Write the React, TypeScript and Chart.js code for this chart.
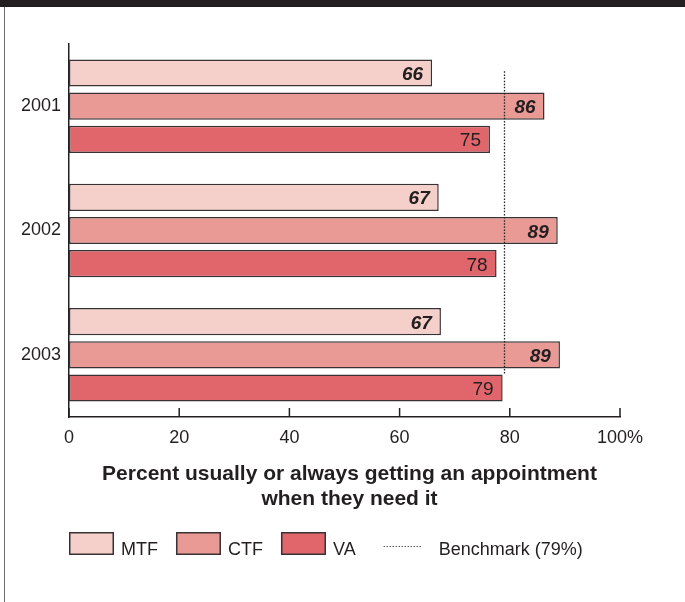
import React, { useEffect, useRef } from "react";
import { Chart, registerables } from "chart.js";

Chart.register(...registerables);

const years = ["2001", "2002", "2003"];
const seriesNames = ["MTF", "CTF", "VA"];
const mtfValues = [65.9, 67.1, 67.5];
const ctfValues = [86.3, 88.7, 89.1];
const vaValues = [76.4, 77.6, 78.7];
const mtfLabels = ["66", "67", "67"];
const ctfLabels = ["86", "89", "89"];
const vaLabels = ["75", "78", "79"];
const xTickValues = [0, 20, 40, 60, 80, 100];
const xTickLabels = ["0", "20", "40", "60", "80", "100%"];
const benchmarkValue = 79;
const benchmarkLabel = "Benchmark (79%)";
const axisTitleLines = [
  "Percent usually or always getting an appointment",
  "when they need it",
];

const FONT = "'Liberation Sans', Arial, sans-serif";
const TEXT = "#231f20";
const BORDER = "#383234";
const COLORS = ["#f5d0ca", "#e99a95", "#e0666c"];
const LABEL_STYLES = ["italic bold", "italic bold", "normal"];

const overlayPlugin = {
  id: "overlay",
  afterDatasetsDraw(chart: any) {
    const ctx = chart.ctx;
    const xs = chart.scales.x;
    const ys = chart.scales.y;
    const labelSets = [mtfLabels, ctfLabels, vaLabels];
    ctx.save();
    chart.data.datasets.forEach((ds: any, di: number) => {
      const meta = chart.getDatasetMeta(di);
      meta.data.forEach((bar: any, i: number) => {
        ctx.font = `${LABEL_STYLES[di]} 19px ${FONT}`;
        ctx.fillStyle = TEXT;
        ctx.textAlign = "right";
        ctx.textBaseline = "alphabetic";
        ctx.fillText(labelSets[di][i], bar.x - 9, bar.y + 7);
      });
    });
    const step = ys.getPixelForValue(1) - ys.getPixelForValue(0);
    const bx = Math.round(xs.getPixelForValue(benchmarkValue)) + 0.5;
    ctx.strokeStyle = "#222";
    ctx.lineWidth = 1.3;
    ctx.setLineDash([1.5, 1.6]);
    ctx.beginPath();
    ctx.moveTo(bx, ys.getPixelForValue(0) - 0.28 * step);
    ctx.lineTo(bx, ys.getPixelForValue(years.length - 1) + 0.157 * step);
    ctx.stroke();
    ctx.setLineDash([]);
    ctx.restore();
  },
  afterDraw(chart: any) {
    const ctx = chart.ctx;
    const area = chart.chartArea;
    const xs = chart.scales.x;
    const bottom = area.bottom;
    ctx.save();
    ctx.strokeStyle = TEXT;
    ctx.lineWidth = 1.5;
    xTickValues.forEach((v) => {
      const x = xs.getPixelForValue(v);
      ctx.beginPath();
      ctx.moveTo(x, bottom);
      ctx.lineTo(x, bottom - 9);
      ctx.stroke();
    });
    ctx.fillStyle = TEXT;
    ctx.font = `18px ${FONT}`;
    ctx.textAlign = "center";
    ctx.textBaseline = "alphabetic";
    xTickValues.forEach((v, i) => {
      ctx.fillText(xTickLabels[i], xs.getPixelForValue(v), bottom + 26);
    });
    ctx.font = `bold 21px ${FONT}`;
    const cx = (area.left + area.right) / 2 + 5;
    axisTitleLines.forEach((line, i) => {
      ctx.fillText(line, cx, bottom + 63 + i * 25);
    });
    ctx.textAlign = "left";
    ctx.font = `18px ${FONT}`;
    let x = area.left;
    const boxTop = bottom + 115;
    const boxH = 23;
    const boxW = 45;
    chart.data.datasets.forEach((ds: any) => {
      ctx.fillStyle = ds.backgroundColor;
      ctx.fillRect(x, boxTop, boxW, boxH);
      ctx.strokeStyle = BORDER;
      ctx.lineWidth = 1.5;
      ctx.strokeRect(x + 0.75, boxTop + 0.75, boxW - 1.5, boxH - 1.5);
      ctx.fillStyle = TEXT;
      const tx = x + boxW + 7;
      ctx.fillText(ds.label, tx, boxTop + boxH);
      x = tx + ctx.measureText(ds.label).width + 18;
    });
    ctx.strokeStyle = "#333";
    ctx.lineWidth = 1.2;
    ctx.setLineDash([1.2, 1.8]);
    ctx.beginPath();
    const ly = boxTop + 14.5;
    ctx.moveTo(x + 10, ly);
    ctx.lineTo(x + 48, ly);
    ctx.stroke();
    ctx.setLineDash([]);
    ctx.fillStyle = TEXT;
    ctx.fillText(benchmarkLabel, x + 65, boxTop + boxH);
    ctx.restore();
  },
};

export default function App() {
  const canvasRef = useRef<HTMLCanvasElement | null>(null);

  useEffect(() => {
    document.body.style.margin = "0";
    const canvas = canvasRef.current;
    if (!canvas) return;
    const values = [mtfValues, ctfValues, vaValues];
    const chart = new Chart(canvas, {
      type: "bar",
      data: {
        labels: years,
        datasets: seriesNames.map((name, i) => ({
          label: name,
          data: values[i],
          backgroundColor: COLORS[i],
          borderColor: BORDER,
          borderWidth: 1.5,
          borderSkipped: false,
          categoryPercentage: 0.8,
          barPercentage: 0.82,
        })),
      },
      options: {
        indexAxis: "y",
        animation: false,
        responsive: false,
        devicePixelRatio: 1,
        layout: { padding: { top: 44, right: 65, left: 0, bottom: 0 } },
        scales: {
          x: {
            min: 0,
            max: 100,
            grid: { display: false },
            border: { display: true, color: TEXT, width: 1.5 },
            ticks: { display: false },
            afterFit: (s: any) => {
              s.height = 185;
            },
          },
          y: {
            grid: { display: false, drawTicks: false },
            border: { display: true, color: TEXT, width: 1.5 },
            ticks: {
              color: TEXT,
              font: { family: FONT, size: 18 },
              padding: 8,
            },
            afterFit: (s: any) => {
              s.width = 69;
            },
          },
        },
        plugins: {
          legend: { display: false },
          tooltip: { enabled: false },
        },
      },
      plugins: [overlayPlugin],
    } as any);
    return () => chart.destroy();
  }, []);

  return (
    <div style={{ position: "relative", width: 685, height: 602, background: "#fff" }}>
      <canvas ref={canvasRef} width={685} height={602} style={{ position: "absolute", left: 0, top: 0 }} />
      <div style={{ position: "absolute", left: 0, top: 0, width: 685, height: 7, background: "#231f20" }} />
      <div style={{ position: "absolute", left: 3.5, top: 7, width: 1.5, height: 595, background: "#6b6b6b" }} />
    </div>
  );
}
